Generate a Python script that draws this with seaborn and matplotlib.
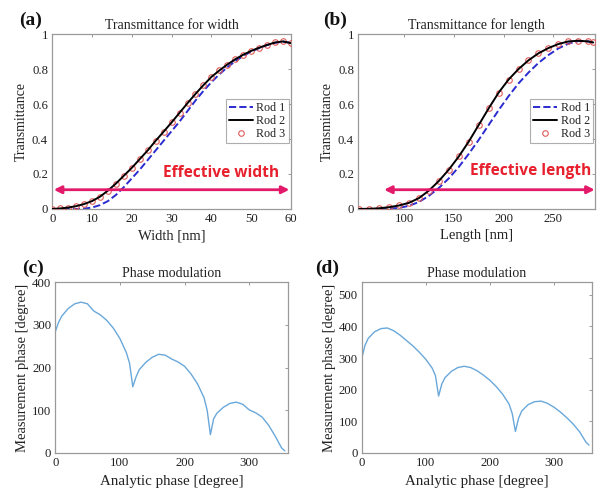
import numpy as np
import pandas as pd
import matplotlib
matplotlib.use("Agg")
import matplotlib.pyplot as plt
import seaborn as sns

# ---------------- data ----------------
width_nm = [0, 2, 4, 6, 8, 10, 12, 14, 16, 18, 20, 22, 24, 26, 28, 30,
            32, 34, 36, 38, 40, 42, 44, 46, 48, 50, 52, 54, 56, 58, 60]
width_rod1 = [0.0, 0.0, 0.0, 0.0, 0.002, 0.008, 0.022, 0.045, 0.08, 0.125, 0.175,
              0.225, 0.28, 0.335, 0.39, 0.445, 0.50, 0.56, 0.62, 0.675, 0.725,
              0.77, 0.81, 0.845, 0.875, 0.90, 0.92, 0.937, 0.95, 0.957, 0.95]
width_rod2 = [0.0, 0.003, 0.008, 0.016, 0.028, 0.045, 0.07, 0.105, 0.145, 0.19, 0.235,
              0.285, 0.335, 0.39, 0.442, 0.495, 0.55, 0.605, 0.658, 0.708, 0.755,
              0.792, 0.826, 0.856, 0.882, 0.904, 0.922, 0.938, 0.952, 0.958, 0.948]
width_rod3 = [0.0, 0.003, 0.008, 0.016, 0.028, 0.045, 0.07, 0.105, 0.145, 0.19, 0.235,
              0.285, 0.335, 0.39, 0.442, 0.495, 0.55, 0.605, 0.658, 0.708, 0.755,
              0.792, 0.826, 0.856, 0.882, 0.904, 0.922, 0.938, 0.952, 0.958, 0.948]

length_nm = [55, 65, 75, 85, 95, 105, 115, 125, 135, 145, 155, 165, 175, 185,
             195, 205, 215, 225, 235, 245, 255, 265, 275, 285, 290]
length_rod1 = [0.0, 0.0, 0.0, 0.002, 0.006, 0.018, 0.04, 0.075, 0.12, 0.175, 0.24,
               0.315, 0.395, 0.48, 0.565, 0.645, 0.718, 0.78, 0.835, 0.88, 0.918,
               0.945, 0.96, 0.958, 0.952]
length_rod2 = [0.0, 0.001, 0.004, 0.01, 0.02, 0.035, 0.062, 0.105, 0.16, 0.225, 0.30,
               0.385, 0.48, 0.575, 0.665, 0.74, 0.80, 0.85, 0.89, 0.92, 0.943,
               0.958, 0.962, 0.958, 0.952]
length_rod3 = [0.0, 0.001, 0.004, 0.01, 0.02, 0.035, 0.062, 0.105, 0.16, 0.225, 0.30,
               0.385, 0.48, 0.575, 0.665, 0.74, 0.80, 0.85, 0.89, 0.92, 0.943,
               0.958, 0.962, 0.958, 0.952]

phase_c_x = [0, 5, 10, 20, 30, 40, 50, 55, 60, 70, 80, 90, 100, 110, 115, 120, 125,
             130, 140, 150, 160, 170, 180, 190, 200, 210, 220, 230, 235, 240, 245,
             250, 260, 270, 280, 290, 300, 310, 320, 330, 340, 350, 355]
phase_c_y = [283, 305, 320, 338, 349, 353, 349, 340, 332, 323, 310, 292, 268, 235, 210,
             155, 178, 195, 212, 224, 231, 229, 220, 213, 203, 185, 162, 130, 100, 43,
             80, 93, 107, 116, 119, 114, 101, 94, 84, 65, 40, 12, 5]

phase_d_x = [0, 5, 10, 20, 30, 40, 50, 60, 70, 80, 90, 100, 110, 115, 120, 125, 130,
             140, 150, 160, 170, 180, 190, 200, 210, 220, 230, 235, 240, 245, 250,
             260, 270, 280, 290, 300, 310, 320, 330, 340, 350, 355]
phase_d_y = [300, 340, 362, 383, 393, 395, 386, 372, 355, 338, 318, 296, 268, 245, 180,
             218, 238, 258, 270, 274, 270, 260, 246, 230, 210, 186, 155, 125, 68, 110,
             133, 153, 162, 164, 157, 145, 130, 112, 92, 68, 35, 25]

trans_yticks = [0, 0.2, 0.4, 0.6, 0.8, 1]
trans_yticklabels = ["0", "0.2", "0.4", "0.6", "0.8", "1"]
width_xticks = [0, 10, 20, 30, 40, 50, 60]
length_xticks = [100, 150, 200, 250]
phase_xticks = [0, 100, 200, 300]
phase_c_yticks = [0, 100, 200, 300, 400]
phase_d_yticks = [0, 100, 200, 300, 400, 500]

# ---------------- style ----------------
sns.set_theme(style="white")
plt.rcParams['font.family'] = ['Liberation Serif', 'DejaVu Serif']
plt.rcParams['mathtext.fontset'] = 'stix'

FRAME = '#9a9a9a'
TXT = '#222222'
BLUE = '#2b2bd0'
RED = '#e05a5a'
LINE = '#6aa8da'
ARROW = '#e3196a'
TEXTRED = '#e8202e'

fig = plt.figure(figsize=(6.0, 4.94), dpi=100)
ax_a = fig.add_axes([0.087, 0.577, 0.398, 0.354])
ax_b = fig.add_axes([0.597, 0.577, 0.395, 0.354])
ax_c = fig.add_axes([0.092, 0.083, 0.388, 0.346])
ax_d = fig.add_axes([0.603, 0.083, 0.384, 0.346])


def style_axes(ax):
    for s in ax.spines.values():
        s.set_color(FRAME)
        s.set_linewidth(0.9)
    ax.tick_params(direction='in', length=2.5, width=0.7, color=FRAME,
                   top=True, right=True, labelsize=9.2, labelcolor=TXT, pad=3)
    ax.set_facecolor('white')


def trans_panel(ax, x, r1, r2, r3, xlabel, title, xlim, xticks):
    sns.lineplot(x=x, y=r1, ax=ax, color=BLUE, linestyle='--', linewidth=1.4,
                 label='Rod 1', errorbar=None, sort=False, zorder=2)
    sns.lineplot(x=x, y=r2, ax=ax, color='black', linewidth=1.4,
                 label='Rod 2', errorbar=None, sort=False, zorder=4)
    sns.lineplot(x=x, y=r3, ax=ax, color=RED, linestyle='none', marker='o',
                 markersize=4, markerfacecolor='none', markeredgecolor=RED,
                 markeredgewidth=0.8, label='Rod 3', errorbar=None, sort=False, zorder=3)
    ax.set_xlim(*xlim)
    ax.set_ylim(0, 1)
    ax.set_xticks(xticks)
    ax.set_yticks(trans_yticks)
    ax.set_yticklabels(trans_yticklabels)
    ax.set_xlabel(xlabel, fontsize=10.5, color=TXT, labelpad=3)
    ax.set_ylabel('Transmittance', fontsize=10, color=TXT, labelpad=3)
    ax.set_title(title, fontsize=10, color=TXT, pad=4)
    leg = ax.legend(loc='upper right', bbox_to_anchor=(0.99, 0.63), fontsize=8.7,
                    frameon=True, fancybox=False, handlelength=2.0, handletextpad=0.3,
                    borderpad=0.25, labelspacing=0.1, borderaxespad=0.0)
    leg.get_frame().set_edgecolor(FRAME)
    leg.get_frame().set_linewidth(0.8)
    for t in leg.get_texts():
        t.set_color(TXT)
    style_axes(ax)


trans_panel(ax_a, width_nm, width_rod1, width_rod2, width_rod3,
            'Width [nm]', 'Transmittance for width', (0, 60), width_xticks)
trans_panel(ax_b, length_nm, length_rod1, length_rod2, length_rod3,
            'Length [nm]', 'Transmittance for length', (54, 292), length_xticks)

# effective width / length annotations
ax_a.annotate('', xy=(0.4, 0.11), xytext=(59.6, 0.11),
              arrowprops=dict(arrowstyle='<|-|>', color=ARROW, lw=2.0,
                              mutation_scale=11, shrinkA=0, shrinkB=0), zorder=6)
ax_a.text(27.8, 0.205, 'Effective width', fontsize=11.2, fontweight='bold',
          color=TEXTRED, family=['Open Sans', 'DejaVu Sans'], va='center', ha='left')
ax_b.annotate('', xy=(80, 0.11), xytext=(291.5, 0.11),
              arrowprops=dict(arrowstyle='<|-|>', color=ARROW, lw=2.0,
                              mutation_scale=11, shrinkA=0, shrinkB=0), zorder=6)
ax_b.text(166, 0.215, 'Effective length', fontsize=11.2, fontweight='bold',
          color=TEXTRED, family=['Open Sans', 'DejaVu Sans'], va='center', ha='left')


def phase_panel(ax, x, y, yticks, ylim):
    sns.lineplot(x=x, y=y, ax=ax, color=LINE, linewidth=1.0, errorbar=None, sort=False)
    ax.set_xlim(0, 360)
    ax.set_ylim(*ylim)
    ax.set_xticks(phase_xticks)
    ax.set_yticks(yticks)
    ax.set_xlabel('Analytic phase [degree]', fontsize=10.8, color=TXT, labelpad=4)
    ax.set_ylabel('Measurement phase [degree]', fontsize=10.5, color=TXT, labelpad=2)
    ax.set_title('Phase modulation', fontsize=10, color=TXT, pad=4)
    style_axes(ax)


phase_panel(ax_c, phase_c_x, phase_c_y, phase_c_yticks, (0, 400))
phase_panel(ax_d, phase_d_x, phase_d_y, phase_d_yticks, (0, 540))

# panel labels
for lbl, (px, py) in zip(['(a)', '(b)', '(c)', '(d)'],
                         [(31, 20), (335, 20), (33, 268), (327, 268)]):
    fig.text(px / 600, 1 - py / 494, lbl, fontsize=14, fontweight='bold',
             color='#111111', ha='center', va='center')

fig.savefig('out.png', dpi=100, facecolor='white')
